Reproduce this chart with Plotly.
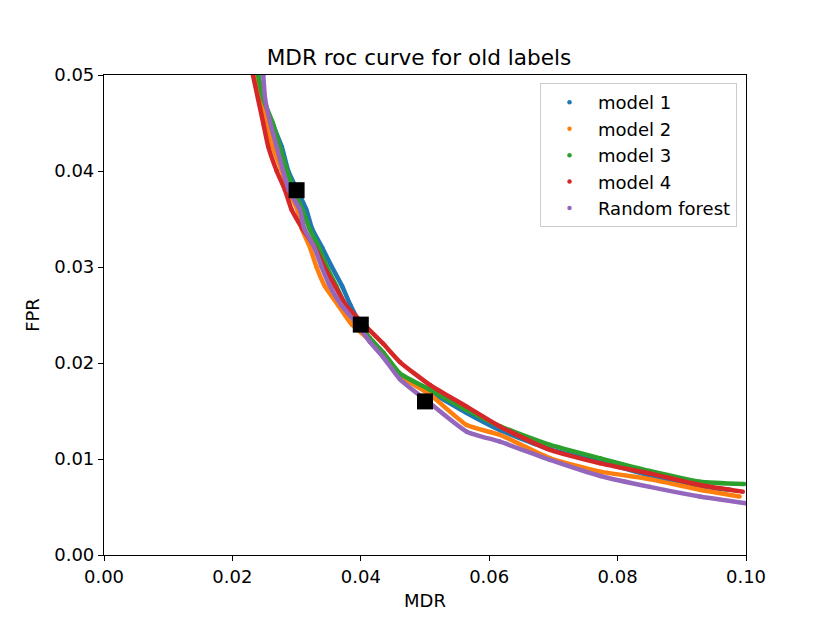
import plotly.graph_objects as go

# 各模型的 MDR / FPR 曲线
mdr_model1 = [0.0240, 0.0248, 0.0262, 0.0277, 0.0287, 0.0301, 0.0315, 0.0324, 0.0340, 0.0355, 0.0371, 0.0384,
              0.0400, 0.0414, 0.0435, 0.0461, 0.0508, 0.0565, 0.0617, 0.0695, 0.0773, 0.0850, 0.0928, 0.0975]
fpr_model1 = [0.0500, 0.0475, 0.0450, 0.0425, 0.0400, 0.0380, 0.0360, 0.0340, 0.0320, 0.0300, 0.0280, 0.0260,
              0.0240, 0.0225, 0.0210, 0.0188, 0.0170, 0.0148, 0.0130, 0.0110, 0.0097, 0.0083, 0.0071, 0.0068]

mdr_model2 = [0.0236, 0.0243, 0.0254, 0.0263, 0.0277, 0.0287, 0.0301, 0.0308, 0.0321, 0.0331, 0.0344, 0.0365,
              0.0386, 0.0414, 0.0435, 0.0461, 0.0508, 0.0565, 0.0617, 0.0695, 0.0773, 0.0850, 0.0928, 0.0990]
fpr_model2 = [0.0500, 0.0475, 0.0450, 0.0425, 0.0400, 0.0380, 0.0360, 0.0340, 0.0320, 0.0300, 0.0280, 0.0260,
              0.0240, 0.0224, 0.0210, 0.0187, 0.0167, 0.01354, 0.0125, 0.01007, 0.00868, 0.0079, 0.0068, 0.0061]

mdr_model3 = [0.0240, 0.0248, 0.0263, 0.0274, 0.0285, 0.0296, 0.0309, 0.0320, 0.0335, 0.0347, 0.0362, 0.0376,
              0.0399, 0.0414, 0.0435, 0.0461, 0.0508, 0.0565, 0.0617, 0.0695, 0.0773, 0.0850, 0.0928, 0.0997]
fpr_model3 = [0.0500, 0.0475, 0.0450, 0.0425, 0.0400, 0.0380, 0.0360, 0.0340, 0.0320, 0.0300, 0.0280, 0.0260,
              0.0240, 0.0226, 0.0211, 0.0189, 0.0172, 0.0151, 0.0134, 0.01146, 0.01007, 0.00875, 0.00764, 0.0074]

mdr_model4 = [0.0232, 0.0240, 0.0248, 0.0256, 0.0269, 0.0282, 0.0292, 0.0309, 0.0329, 0.0343, 0.0360, 0.0377,
              0.0405, 0.0435, 0.0461, 0.0508, 0.0565, 0.0617, 0.0695, 0.0773, 0.0850, 0.0928, 0.0995]
fpr_model4 = [0.0500, 0.0475, 0.0450, 0.0425, 0.0400, 0.0380, 0.0360, 0.0340, 0.0320, 0.0300, 0.0280, 0.0260,
              0.0240, 0.0220, 0.0201, 0.0177, 0.01545, 0.01337, 0.01094, 0.00955, 0.0085, 0.0073, 0.0066]

mdr_rf = [0.0248, 0.0251, 0.0259, 0.0269, 0.0279, 0.0288, 0.0305, 0.0312, 0.0328, 0.0339, 0.0352, 0.0370,
          0.0395, 0.0414, 0.0435, 0.0461, 0.0508, 0.0565, 0.0617, 0.0695, 0.0773, 0.0850, 0.0928, 0.1000]
fpr_rf = [0.0500, 0.0475, 0.0450, 0.0425, 0.0400, 0.0380, 0.0360, 0.0340, 0.0320, 0.0300, 0.0280, 0.0260,
          0.0240, 0.0222, 0.0206, 0.0183, 0.0158, 0.01285, 0.0118, 0.0099, 0.00823, 0.0071, 0.0061, 0.0054]

# 黑色方块标记的工作点
point_mdr = [0.03, 0.04, 0.05]
point_fpr = [0.038, 0.024, 0.016]

names = ['model 1', 'model 2', 'model 3', 'model 4', 'Random forest']
colors = ['#1f77b4', '#ff7f0e', '#2ca02c', '#d62728', '#9467bd']
series = [(mdr_model1, fpr_model1), (mdr_model2, fpr_model2), (mdr_model3, fpr_model3),
          (mdr_model4, fpr_model4), (mdr_rf, fpr_rf)]

fig = go.Figure()
for name, color, (xs, ys) in zip(names, colors, series):
    # 粗线模拟密集的点
    fig.add_trace(go.Scatter(x=xs, y=ys, mode='lines', line=dict(color=color, width=4.5, shape='spline', smoothing=0.5),
                             showlegend=False, legendgroup=name, hoverinfo='skip'))
    fig.add_trace(go.Scatter(x=xs, y=ys, mode='markers', name=name, legendgroup=name,
                             marker=dict(color=color, size=4.5)))

fig.add_trace(go.Scatter(x=point_mdr, y=point_fpr, mode='markers', showlegend=False,
                         marker=dict(symbol='square', color='black', size=16)))

axis_style = dict(showline=True, linecolor='black', linewidth=1.2, mirror=True, showgrid=False, zeroline=False,
                  ticks='outside', ticklen=5, tickwidth=1.2, tickcolor='black',
                  tickfont=dict(size=18, color='black'), tickformat='.2f')

# 页面自带 8px 边距，这里把画布缩小一点
fig.update_layout(
    width=822, height=615,
    margin=dict(l=96, r=84, t=67, b=68),
    paper_bgcolor='white', plot_bgcolor='white',
    font=dict(family='DejaVu Sans', color='black'),
    title=dict(text='MDR roc curve for old labels', x=0.5, xanchor='center', y=1 - 49 / 615, yanchor='middle',
               yref='container', font=dict(size=21.6, color='black')),
    xaxis=dict(range=[0, 0.1], dtick=0.02, title=dict(text='MDR', font=dict(size=18), standoff=8), **axis_style),
    yaxis=dict(range=[0, 0.05], dtick=0.01, title=dict(text='FPR', font=dict(size=18), standoff=9), **axis_style),
    legend=dict(x=0.986, y=0.983, xanchor='right', yanchor='top', bgcolor='rgba(255,255,255,0.8)',
                bordercolor='#cccccc', borderwidth=1, font=dict(size=18), itemwidth=47, tracegroupgap=0),
)

fig.write_html("out.html")
